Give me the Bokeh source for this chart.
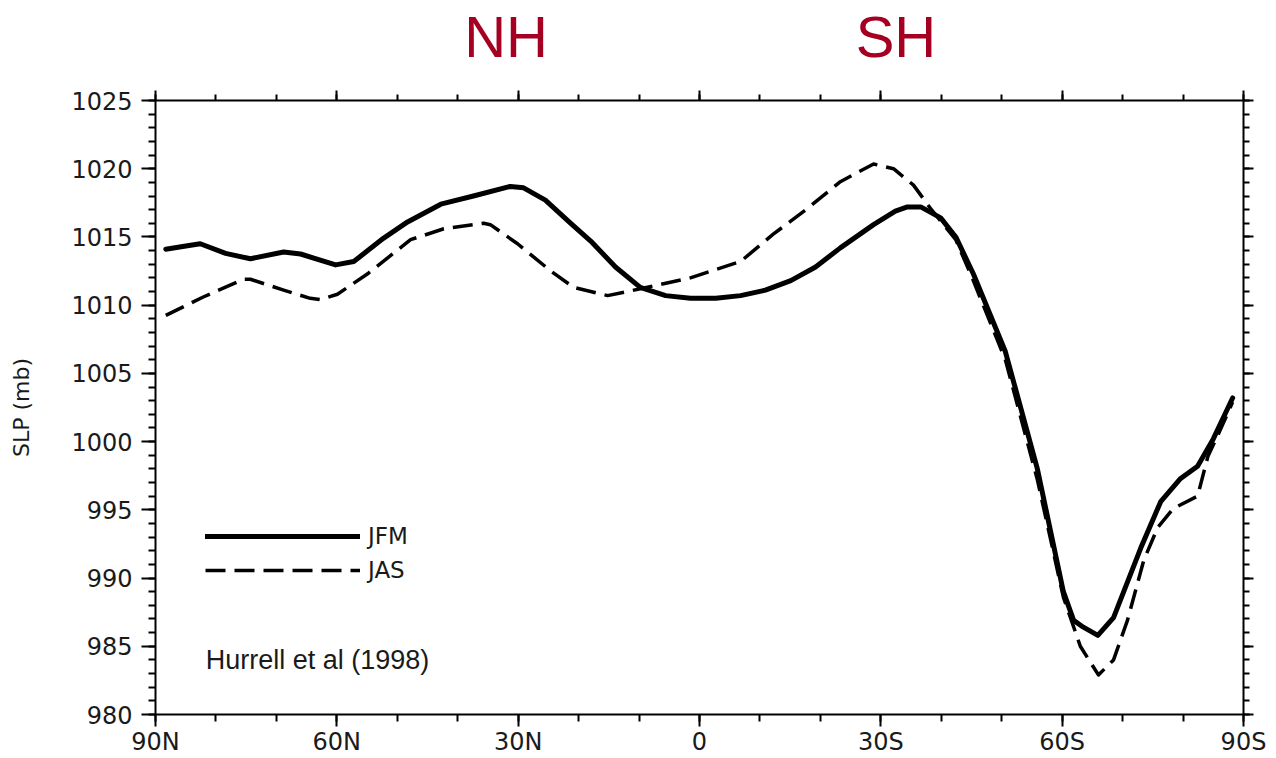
from bokeh.plotting import figure
from bokeh.models import (Range1d, FixedTicker, LinearAxis, Label, Legend, LegendItem)
from bokeh.embed import file_html
from bokeh.resources import INLINE

# ---- data ----
x_ticks = [90, 60, 30, 0, -30, -60, -90]
x_tick_labels = ["90N", "60N", "30N", "0", "30S", "60S", "90S"]
y_ticks = [980, 985, 990, 995, 1000, 1005, 1010, 1015, 1020, 1025]

jfm_lat = [88.3, 85.5, 82.6, 78.4, 74.3, 68.8, 66.0, 60.2, 57.2, 52.3, 48.3, 42.8, 37.4,
           31.3, 29.1, 25.5, 21.3, 18.0, 13.9, 9.8, 5.6, 1.5, -2.7, -6.8, -10.9, -15.1,
           -19.2, -23.3, -28.8, -32.4, -34.4, -36.6, -39.9, -42.4, -45.3, -50.6, -55.9,
           -60.2, -61.9, -63.5, -65.9, -68.5, -73.0, -76.3, -79.6, -82.4, -85.0, -88.2]
jfm_slp = [1014.1, 1014.3, 1014.5, 1013.8, 1013.4, 1013.9, 1013.75, 1012.95, 1013.2, 1014.9,
           1016.1, 1017.4, 1018.0, 1018.7, 1018.6, 1017.7, 1016.0, 1014.7, 1012.8, 1011.3,
           1010.7, 1010.5, 1010.5, 1010.7, 1011.1, 1011.8, 1012.8, 1014.2, 1015.9, 1016.9,
           1017.2, 1017.2, 1016.4, 1015.0, 1012.3, 1006.6, 998.0, 989.0, 986.9, 986.4,
           985.8, 987.1, 992.2, 995.6, 997.3, 998.2, 1000.2, 1003.2]

jas_lat = [88.3, 82.1, 75.4, 74.3, 68.8, 64.4, 62.7, 59.9, 54.9, 47.8, 42.3, 35.7, 34.6,
           30.1, 24.6, 20.8, 15.2, 9.8, 1.5, -6.8, -12.2, -17.9, -23.3, -28.8, -32.1,
           -35.4, -38.2, -42.4, -45.3, -50.6, -55.9, -60.2, -63.0, -66.0, -68.5, -70.8,
           -73.5, -75.8, -78.4, -82.4, -84.1, -86.2, -88.2]
jas_slp = [1009.25, 1010.6, 1011.9, 1011.9, 1011.1, 1010.5, 1010.4, 1010.8, 1012.3, 1014.8,
           1015.6, 1016.0, 1015.9, 1014.5, 1012.5, 1011.3, 1010.7, 1011.2, 1012.0, 1013.2,
           1015.2, 1017.1, 1019.05, 1020.35, 1020.0, 1018.8, 1017.1, 1014.8, 1011.8,
           1006.0, 997.2, 988.6, 985.0, 982.9, 984.0, 986.9, 991.3, 993.7, 995.1, 996.0,
           998.9, 1000.9, 1002.9]

series_names = ["JFM", "JAS"]
hemi_labels = ["NH", "SH"]
hemi_lat = [32, -32.5]
citation = "Hurrell et al (1998)"

# ---- figure ----
TICK_FONT = "DejaVu Sans"
TEXT = "#1a1a1a"
p = figure(width=1276, height=758, output_backend="svg", toolbar_location=None,
           x_range=Range1d(90, -90), y_range=Range1d(980, 1025),
           min_border_left=155, min_border_right=33, min_border_top=98,
           min_border_bottom=40)
p.outline_line_color = None
p.xgrid.visible = False
p.ygrid.visible = False
p.background_fill_color = "white"
p.border_fill_color = "white"

xt = FixedTicker(ticks=x_ticks, minor_ticks=list(range(-90, 91, 10)))
yt = FixedTicker(ticks=y_ticks, minor_ticks=list(range(980, 1026, 1)))


def style(ax, labels=True):
    ax.axis_line_width = 2
    ax.axis_line_color = "black"
    ax.major_tick_line_width = 2
    ax.minor_tick_line_width = 2
    ax.major_tick_line_color = "black"
    ax.minor_tick_line_color = "black"
    ax.major_tick_in = 0
    ax.minor_tick_in = 0
    ax.major_tick_out = 13
    ax.minor_tick_out = 7
    if labels:
        ax.major_label_text_font = TICK_FONT
        ax.major_label_text_font_size = "24px"
        ax.major_label_text_color = TEXT
    else:
        ax.major_label_text_font_size = "0px"
        ax.major_label_text_alpha = 0
        ax.major_label_standoff = 0


xa = p.xaxis[0]
xa.ticker = xt
xa.major_label_overrides = {t: l for t, l in zip(x_ticks, x_tick_labels)}
style(xa)
xa.major_label_standoff = 1
xa.major_tick_out = 12

ya = p.yaxis[0]
ya.ticker = yt
style(ya)
ya.major_tick_out = 14
ya.major_label_standoff = 9
ya.axis_label = "SLP (mb)"
ya.axis_label_text_font = TICK_FONT
ya.axis_label_text_font_size = "22px"
ya.axis_label_text_font_style = "normal"
ya.axis_label_text_color = TEXT
ya.axis_label_standoff = 34

top = LinearAxis(ticker=xt)
style(top, labels=False)
top.major_tick_out = 10
top.minor_tick_out = 6
p.add_layout(top, "above")

# hemisphere headings, placed at their latitudes above the frame
hemi = LinearAxis(ticker=FixedTicker(ticks=hemi_lat, minor_ticks=[]),
                  major_label_overrides={t: l for t, l in zip(hemi_lat, hemi_labels)})
hemi.axis_line_color = None
hemi.major_tick_line_color = None
hemi.minor_tick_line_color = None
hemi.major_tick_out = 0
hemi.major_tick_in = 0
hemi.minor_tick_out = 0
hemi.minor_tick_in = 0
hemi.major_label_standoff = 22
hemi.major_label_text_font = "Liberation Sans"
hemi.major_label_text_font_size = "58px"
hemi.major_label_text_color = "#A50021"
p.add_layout(hemi, "above")

right = LinearAxis(ticker=yt)
style(right, labels=False)
right.major_tick_out = 10
right.minor_tick_out = 6
p.add_layout(right, "right")

# ---- curves ----
r1 = p.line(jfm_lat, jfm_slp, line_color="black", line_width=5, line_join="round",
            line_cap="round")
r2 = p.line(jas_lat, jas_slp, line_color="black", line_width=3.5, line_dash="20 9",
            line_join="round")

legend = Legend(items=[LegendItem(label=series_names[0], renderers=[r1]),
                       LegendItem(label=series_names[1], renderers=[r2])],
                location=(50, 131), glyph_width=155, glyph_height=20, spacing=8,
                padding=0, margin=0, label_standoff=8,
                label_text_font=TICK_FONT, label_text_font_size="23px",
                label_text_color=TEXT,
                background_fill_alpha=0, border_line_color=None)
p.add_layout(legend, "center")

p.add_layout(Label(x=81.7, y=984.0, text=citation, text_font="Liberation Sans",
                   text_font_size="27px", text_color=TEXT, text_baseline="middle"))

open("out.html", "w").write(file_html(p, INLINE))
